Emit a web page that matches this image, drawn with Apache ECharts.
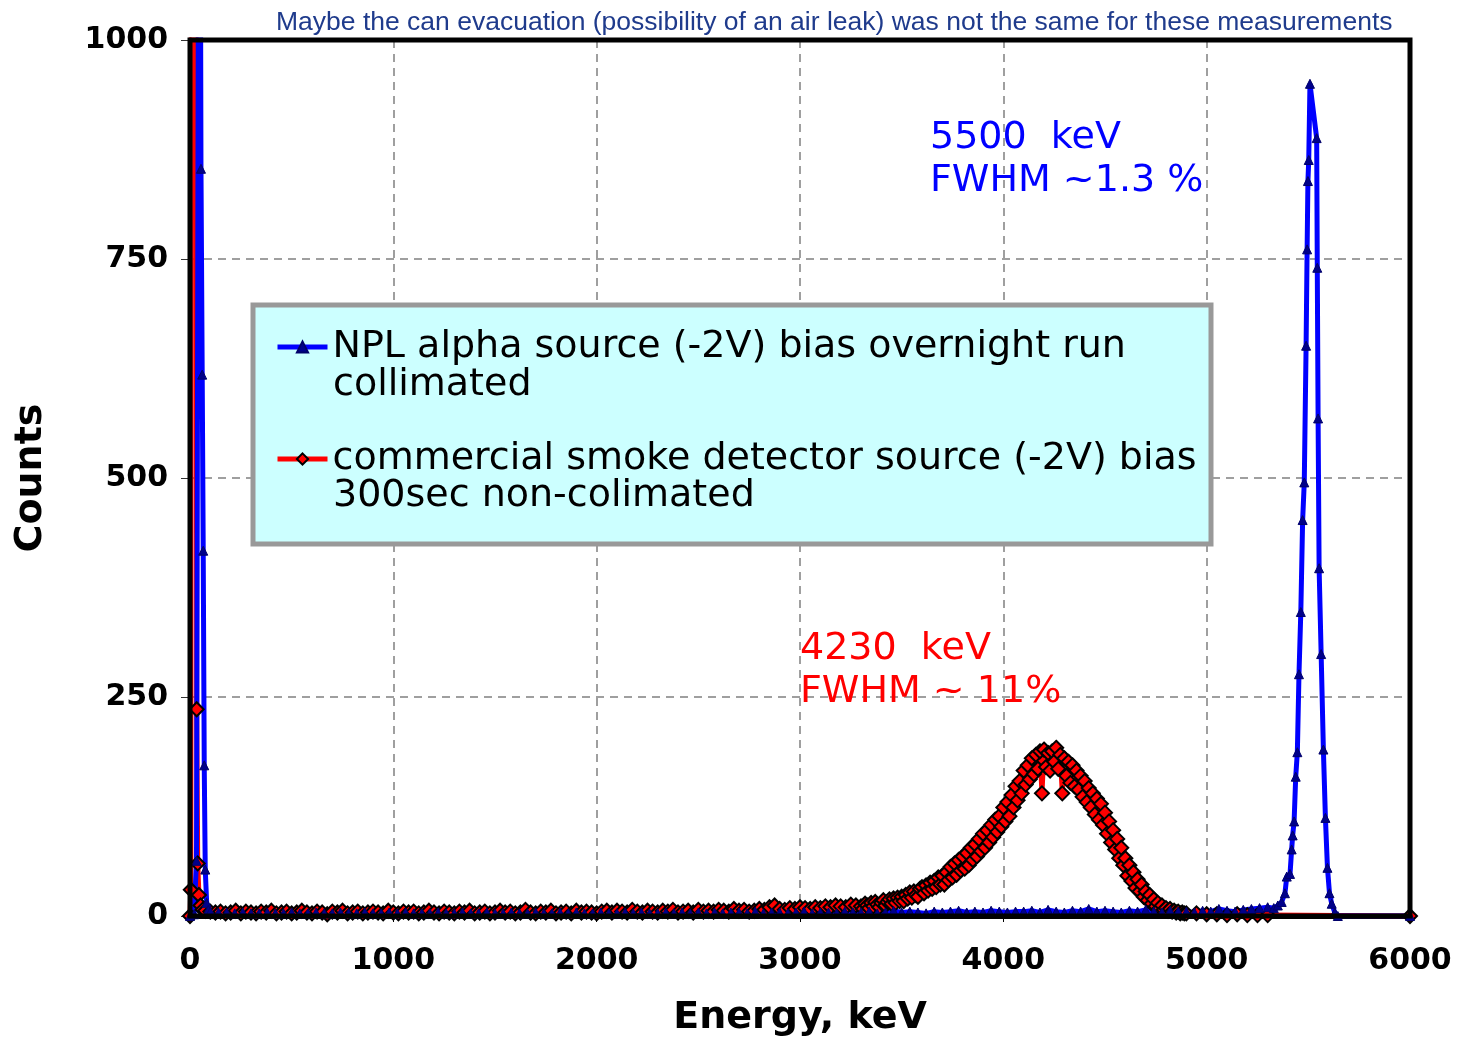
<!DOCTYPE html>
<html>
<head>
<meta charset="utf-8">
<title>Alpha spectra</title>
<script src="https://cdn.jsdelivr.net/npm/echarts@6/dist/echarts.min.js"></script>
<style>
  html, body { margin: 0; padding: 0; background: #fff; }
  #chart { width: 1457px; height: 1039px; }
</style>
</head>
<body>
<div id="chart"></div>
<script>
// series names
const blueName = 'NPL alpha source (-2V) bias overnight run'
const redName = 'commercial smoke detector source (-2V) bias'

// x / y ticks
const xTicks = [0, 1000, 2000, 3000, 4000, 5000, 6000]
const yTicks = [0, 250, 500, 750, 1000]

// smoke detector source: spike at low energy
const redLowE = [0, 4, 10, 18, 26, 33, 38, 44, 52, 62]
const redLowC = [0, 30, 2400, 3000, 1900, 236, 60, 24, 12, 7]
// baseline, 75 keV .. 3275 keV every 25 keV
const redBaseStart = 75
const redBaseStep = 25
const redBase = [
  6, 5, 4, 5, 3, 4, 6, 3, 5, 4,
  3, 5, 4, 6, 3, 4, 5, 3, 4, 6,
  4, 3, 5, 4, 2, 5, 4, 6, 3, 4,
  5, 3, 4, 5, 4, 3, 6, 4, 3, 5,
  4, 5, 3, 4, 6, 4, 3, 5, 4, 3,
  5, 4, 6, 3, 4, 5, 3, 4, 6, 4,
  5, 3, 4, 7, 4, 3, 5, 4, 6, 3,
  4, 5, 3, 6, 4, 5, 4, 3, 5, 6,
  4, 6, 5, 4, 7, 5, 4, 6, 5, 4,
  6, 5, 7, 4, 5, 6, 4, 7, 5, 6,
  5, 7, 6, 5, 8, 6, 7, 5, 6, 8,
  7, 10, 12, 8, 7, 9, 8, 10, 9, 8,
  10, 9, 11, 10, 12, 11, 10, 13, 12
]
// 4230 keV peak, 3300 keV .. 4900 keV every 10 keV
const redPeakStart = 3300
const redPeakStep = 10
const redPeak = [
  11, 8, 14, 12, 9, 15, 11, 16, 13, 10,
  15, 18, 12, 16, 19, 14, 20, 15, 21, 17,
  22, 17, 24, 20, 27, 21, 28, 24, 22, 31,
  33, 26, 35, 29, 38, 31, 40, 33, 44, 36,
  46, 36, 50, 41, 56, 44, 60, 47, 64, 52,
  68, 54, 72, 58, 78, 64, 82, 68, 88, 74,
  94, 78, 98, 84, 104, 90, 110, 96, 114, 102,
  124, 108, 130, 114, 138, 124, 148, 132, 154, 140,
  166, 150, 172, 156, 180, 162, 184, 168, 188, 140,
  190, 170, 186, 166, 188, 176, 192, 168, 184, 140,
  180, 160, 176, 152, 172, 148, 166, 144, 160, 136,
  154, 130, 146, 124, 140, 116, 134, 110, 128, 104,
  118, 94, 108, 84, 98, 76, 88, 66, 78, 58,
  66, 46, 58, 40, 50, 32, 42, 28, 36, 22,
  28, 18, 24, 14, 19, 11, 15, 9, 12, 7,
  9, 6, 8, 5, 6, 4, 5, 3, 4, 3,
  3
]
const redTailE = [4950, 5000, 5050, 5100, 5150, 5200, 5250, 5300, 6000]
const redTailC = [3, 2, 2, 1, 2, 1, 1, 1, 0]

// NPL source: low energy spike
const blueLowE = [0, 20, 32, 46, 54, 60, 65, 70, 75, 82, 90]
const blueLowC = [0, 2, 63, 1600, 853, 618, 417, 172, 53, 15, 7]
// baseline, 100 keV .. 5260 keV every 40 keV
const blueBaseStart = 100
const blueBaseStep = 40
const blueBase = [
  5, 4, 4, 3, 4, 3, 3, 4, 3, 3,
  4, 3, 3, 4, 3, 3, 4, 3, 3, 4,
  3, 3, 4, 3, 4, 3, 3, 3, 4, 3,
  3, 4, 3, 3, 4, 3, 3, 4, 3, 3,
  4, 3, 3, 4, 3, 4, 3, 3, 4, 3,
  3, 4, 3, 4, 3, 3, 4, 3, 4, 3,
  4, 3, 4, 3, 4, 4, 3, 5, 3, 4,
  4, 3, 4, 5, 3, 4, 4, 3, 5, 4,
  4, 5, 3, 4, 6, 4, 5, 4, 3, 5,
  4, 5, 6, 4, 5, 4, 6, 5, 4, 5,
  5, 6, 4, 7, 5, 4, 6, 5, 8, 5,
  6, 5, 4, 6, 5, 7, 5, 4, 6, 5,
  5, 4, 6, 5, 8, 6, 5, 7, 8, 9
]
// 5500 keV peak
const bluePeakE = [5300, 5330, 5350, 5369, 5385, 5394, 5410, 5418, 5423, 5430,
  5438, 5446, 5454, 5463, 5472, 5480, 5489, 5494, 5498, 5502,
  5508, 5541, 5544, 5548, 5553, 5563, 5574, 5584, 5594, 5604,
  5615, 5630, 5645, 6000]
const bluePeakC = [10, 9, 12, 16, 26, 45, 48, 76, 92, 108,
  159, 187, 276, 347, 452, 495, 651, 761, 839, 863,
  950, 888, 740, 568, 397, 299, 190, 112, 55, 26,
  14, 4, 0, 0]

function pairs (xs, ys) {
  return xs.map((x, i) => [x, ys[i]])
}
function stepped (start, step, ys) {
  return ys.map((y, i) => [start + step * i, y])
}

const redData = [].concat(
  pairs(redLowE, redLowC),
  stepped(redBaseStart, redBaseStep, redBase),
  stepped(redPeakStart, redPeakStep, redPeak),
  pairs(redTailE, redTailC)
)
const blueData = [].concat(
  pairs(blueLowE, blueLowC),
  stepped(blueBaseStart, blueBaseStep, blueBase),
  pairs(bluePeakE, bluePeakC)
)

const font = 'DejaVu Sans'
const chart = echarts.init(document.getElementById('chart'))

chart.setOption({
  animation: false,
  backgroundColor: '#fff',
  title: {
    text: 'Maybe the can evacuation (possibility of an air leak) was not the same for these measurements',
    left: 271,
    top: 4,
    textStyle: {
      fontFamily: 'Liberation Sans',
      fontSize: 26.5,
      fontWeight: 'normal',
      color: '#1f3b8c'
    }
  },
  grid: {
    left: 190,
    right: 47,
    top: 40,
    bottom: 123,
    outerBoundsMode: 'none'
  },
  legend: {
    orient: 'vertical',
    left: 270,
    top: 322,
    itemWidth: 50,
    itemHeight: 14,
    itemGap: 72,
    lineStyle: { width: 5 },
    textStyle: {
      fontFamily: font,
      fontSize: 38,
      lineHeight: 40,
      color: '#000'
    },
    data: [blueName, redName]
  },
  xAxis: {
    type: 'value',
    min: xTicks[0],
    max: xTicks[xTicks.length - 1],
    interval: 1000,
    name: 'Energy, keV',
    nameLocation: 'middle',
    nameGap: 83,
    nameTextStyle: {
      fontFamily: font,
      fontSize: 38,
      fontWeight: 'bold',
      color: '#000'
    },
    axisLine: { show: true, onZero: false, lineStyle: { color: '#000', width: 5 } },
    axisTick: { show: true, length: 6, lineStyle: { color: '#000', width: 1 } },
    axisLabel: {
      fontFamily: font,
      fontSize: 30,
      fontWeight: 'bold',
      color: '#000',
      margin: 30,
      formatter: v => String(v)
    },
    splitLine: {
      show: true,
      lineStyle: { color: '#808080', width: 1.5, type: [8, 6] }
    }
  },
  yAxis: {
    type: 'value',
    min: yTicks[0],
    max: yTicks[yTicks.length - 1],
    interval: 250,
    name: 'Counts',
    nameLocation: 'middle',
    nameGap: 140,
    nameTextStyle: {
      fontFamily: font,
      fontSize: 38,
      fontWeight: 'bold',
      color: '#000'
    },
    axisLine: { show: true, lineStyle: { color: '#000', width: 5 } },
    axisTick: { show: true, length: 9, lineStyle: { color: '#333', width: 1 } },
    axisLabel: {
      fontFamily: font,
      fontSize: 30,
      fontWeight: 'bold',
      color: '#000',
      margin: 22,
      formatter: v => String(v)
    },
    splitLine: {
      show: true,
      lineStyle: { color: '#808080', width: 1.5, type: [8, 6] }
    }
  },
  series: [
    {
      name: redName,
      type: 'line',
      data: redData,
      symbol: 'diamond',
      symbolSize: 14,
      showSymbol: true,
      clip: true,
      itemStyle: { color: '#ff0000', borderColor: '#000', borderWidth: 2 },
      lineStyle: { color: '#ff0000', width: 5 }
    },
    {
      name: blueName,
      type: 'line',
      data: blueData,
      symbol: 'triangle',
      symbolSize: 9,
      showSymbol: true,
      clip: true,
      itemStyle: { color: '#00008b', borderColor: '#00006a', borderWidth: 1 },
      lineStyle: { color: '#0000ff', width: 5 }
    }
  ],
  graphic: [
    {
      type: 'rect',
      z: 100,
      silent: true,
      shape: { x: 190, y: 40, width: 1220, height: 876 },
      style: { fill: 'none', stroke: '#000', lineWidth: 5 }
    },
    {
      type: 'rect',
      z: 4,
      shape: { x: 253, y: 305, width: 958, height: 239 },
      style: { fill: '#ccffff', stroke: '#999', lineWidth: 5 }
    },
    {
      type: 'text',
      z: 100,
      left: 333,
      top: 366,
      style: { text: 'collimated', font: '38px "DejaVu Sans"', fill: '#000' }
    },
    {
      type: 'text',
      z: 100,
      left: 333,
      top: 477,
      style: { text: '300sec non-colimated', font: '38px "DejaVu Sans"', fill: '#000' }
    },
    {
      type: 'text',
      z: 100,
      left: 930,
      top: 117,
      style: {
        text: '5500  keV\nFWHM ~1.3 %',
        font: '38px "DejaVu Sans"',
        lineHeight: 43,
        fill: '#0000ff'
      }
    },
    {
      type: 'text',
      z: 100,
      left: 800,
      top: 628,
      style: {
        text: '4230  keV\nFWHM ~ 11%',
        font: '38px "DejaVu Sans"',
        lineHeight: 43,
        fill: '#ff0000'
      }
    }
  ]
})
</script>
</body>
</html>
